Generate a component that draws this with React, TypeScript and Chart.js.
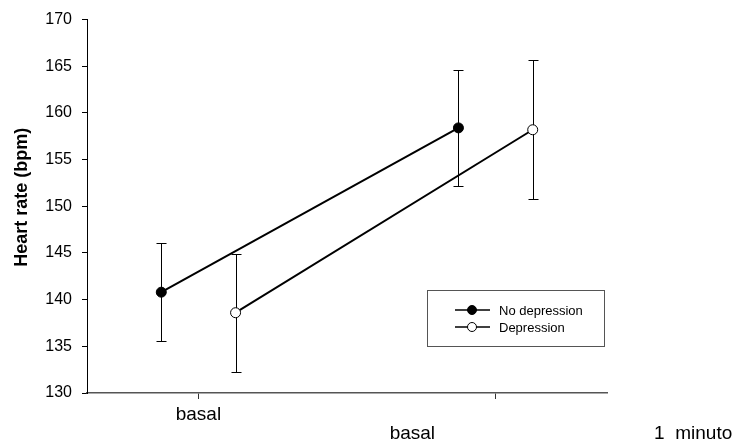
import React, { useEffect, useRef } from "react";
import { Chart, registerables } from "chart.js";

Chart.register(...registerables);

// ---- data ----
const groupPositions = [1, 2];
const seriesOffsets = [-0.125, 0.125];
const seriesNames = ["No depression", "Depression"];
const noDepMean = [140.8, 158.4];
const noDepLow = [135.6, 152.2];
const noDepHigh = [146.1, 164.6];
const depMean = [138.6, 158.2];
const depLow = [132.3, 150.8];
const depHigh = [144.9, 165.7];
const yTickValues = [130, 135, 140, 145, 150, 155, 160, 165, 170];
const xTickLabels = ["basal", ""];
const extraXLabels = ["basal", "1  minuto"];
const extraXLabelPositions = [1.72, 2.665];
const yTitle = "Heart rate (bpm)";

const FONT = "Arial, 'Liberation Sans', sans-serif";

const errorBarPlugin = {
  id: "errorBars",
  beforeDatasetsDraw(chart: any) {
    const ctx = chart.ctx;
    const xs = chart.scales.x;
    const ys = chart.scales.y;
    const sets = [
      { low: noDepLow, high: noDepHigh, off: seriesOffsets[0] },
      { low: depLow, high: depHigh, off: seriesOffsets[1] },
    ];
    ctx.save();
    ctx.strokeStyle = "#000";
    ctx.lineWidth = 1;
    sets.forEach((s) => {
      groupPositions.forEach((g, i) => {
        const px = Math.round(xs.getPixelForValue(g + s.off)) + 0.5;
        const pl = Math.round(ys.getPixelForValue(s.low[i])) + 0.5;
        const ph = Math.round(ys.getPixelForValue(s.high[i])) + 0.5;
        ctx.beginPath();
        ctx.moveTo(px, pl);
        ctx.lineTo(px, ph);
        ctx.moveTo(px - 5, pl);
        ctx.lineTo(px + 5, pl);
        ctx.moveTo(px - 5, ph);
        ctx.lineTo(px + 5, ph);
        ctx.stroke();
      });
    });
    ctx.restore();
  },
};

const extrasPlugin = {
  id: "extras",
  afterDraw(chart: any) {
    const ctx = chart.ctx;
    const xs = chart.scales.x;
    const ys = chart.scales.y;
    ctx.save();
    ctx.fillStyle = "#000";
    // x tick labels (first row)
    ctx.font = `19px ${FONT}`;
    ctx.textAlign = "center";
    ctx.textBaseline = "alphabetic";
    groupPositions.forEach((g, i) => {
      if (xTickLabels[i]) ctx.fillText(xTickLabels[i], xs.getPixelForValue(g), 420);
    });
    // extra x labels (second row)
    extraXLabels.forEach((t, i) => {
      ctx.fillText(t, xs.getPixelForValue(extraXLabelPositions[i]), 439);
    });
    // y title
    ctx.save();
    ctx.translate(22.5, (ys.top + ys.bottom) / 2 - 9);
    ctx.rotate(-Math.PI / 2);
    ctx.font = `bold 18px ${FONT}`;
    ctx.textBaseline = "middle";
    ctx.textAlign = "center";
    ctx.fillText(yTitle, 0, 0);
    ctx.restore();
    // legend
    const bx = 427.5, by = 290.5, bw = 177, bh = 56;
    ctx.strokeStyle = "#555";
    ctx.lineWidth = 1;
    ctx.strokeRect(bx, by, bw, bh);
    const rows = [310, 327];
    ctx.font = `13px ${FONT}`;
    ctx.textAlign = "left";
    ctx.textBaseline = "middle";
    seriesNames.forEach((name, i) => {
      const y = rows[i];
      ctx.strokeStyle = "#000";
      ctx.lineWidth = 1.5;
      ctx.beginPath();
      ctx.moveTo(455, y);
      ctx.lineTo(490, y);
      ctx.stroke();
      ctx.beginPath();
      ctx.arc(472, y, 4.5, 0, Math.PI * 2);
      ctx.fillStyle = i === 0 ? "#000" : "#fff";
      ctx.fill();
      ctx.lineWidth = 1;
      ctx.stroke();
      ctx.fillStyle = "#000";
      ctx.fillText(name, 499, y + 1);
    });
    ctx.restore();
  },
};

export default function App() {
  const ref = useRef<HTMLCanvasElement | null>(null);
  useEffect(() => {
    if (!ref.current) return;
    const chart = new Chart(ref.current, {
      type: "line",
      data: {
        datasets: [
          {
            label: seriesNames[0],
            data: groupPositions.map((g, i) => ({ x: g + seriesOffsets[0], y: noDepMean[i] })),
            borderColor: "#000",
            borderWidth: 2,
            pointRadius: 5,
            pointBackgroundColor: "#000",
            pointBorderColor: "#000",
            pointBorderWidth: 1,
          },
          {
            label: seriesNames[1],
            data: groupPositions.map((g, i) => ({ x: g + seriesOffsets[1], y: depMean[i] })),
            borderColor: "#000",
            borderWidth: 2,
            pointRadius: 5,
            pointBackgroundColor: "#fff",
            pointBorderColor: "#000",
            pointBorderWidth: 1,
          },
        ],
      },
      options: {
        animation: false,
        responsive: false,
        layout: { padding: { top: 19, right: 135, left: 0, bottom: 0 } },
        plugins: { legend: { display: false }, tooltip: { enabled: false } },
        scales: {
          x: {
            type: "linear",
            min: 0.625,
            max: 2.375,
            afterBuildTicks: (s: any) => {
              s.ticks = groupPositions.map((v) => ({ value: v }));
            },
            afterFit: (s: any) => {
              s.height = 48;
            },
            ticks: { display: false },
            grid: { drawOnChartArea: false, drawTicks: true, tickLength: 6, color: "#333" },
            border: { display: true, color: "#555", width: 1.5 },
          },
          y: {
            min: 130,
            max: 170,
            afterBuildTicks: (s: any) => {
              s.ticks = yTickValues.map((v) => ({ value: v }));
            },
            afterFit: (s: any) => {
              s.width = 87;
            },
            ticks: {
              color: "#000",
              font: { family: FONT, size: 16 },
              padding: 10,
            },
            grid: { drawOnChartArea: false, drawTicks: true, tickLength: 5, color: "#000" },
            border: { display: true, color: "#000", width: 1 },
          },
        },
      },
      plugins: [errorBarPlugin, extrasPlugin],
    });
    return () => chart.destroy();
  }, []);
  return (
    <div style={{ position: "absolute", left: 0, top: 0, width: 742, height: 441, background: "#fff" }}>
      <canvas ref={ref} width={742} height={441} style={{ display: "block" }} />
    </div>
  );
}
